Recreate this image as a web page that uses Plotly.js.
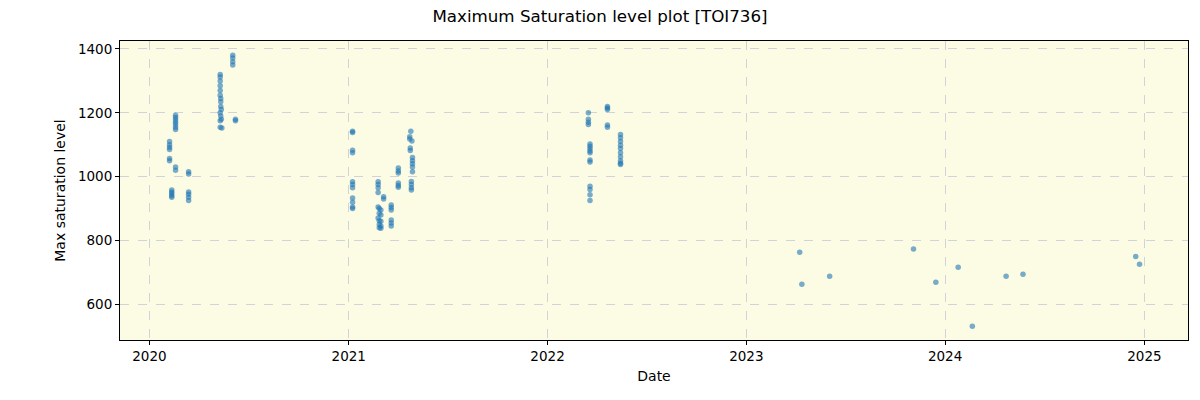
<!DOCTYPE html>
<html>
<head>
<meta charset="utf-8">
<script src="https://cdn.plot.ly/plotly-3.0.1.min.js"></script>
<style>html,body{margin:0;padding:0;background:#fff;}#chart{width:1200px;height:400px;}</style>
</head>
<body>
<div id="chart"></div>
<script>
const dates = [
  // 2020
  "2020-02-07","2020-02-07","2020-02-07","2020-02-07","2020-02-07","2020-02-07",
  "2020-02-11","2020-02-11","2020-02-11","2020-02-11","2020-02-11",
  "2020-02-18","2020-02-18","2020-02-18","2020-02-18","2020-02-18","2020-02-18","2020-02-18","2020-02-18","2020-02-18",
  "2020-03-13","2020-03-13","2020-03-13","2020-03-13","2020-03-13","2020-03-13",
  "2020-05-10","2020-05-10","2020-05-10","2020-05-10","2020-05-10","2020-05-10","2020-05-11","2020-05-11",
  "2020-05-11","2020-05-12","2020-05-10","2020-05-11","2020-05-12","2020-05-10","2020-05-10","2020-05-13",
  "2020-06-02","2020-06-02","2020-06-02","2020-06-02",
  "2020-06-07","2020-06-07",
  // 2021
  "2021-01-08","2021-01-08","2021-01-08","2021-01-08","2021-01-08","2021-01-08","2021-01-08","2021-01-08","2021-01-08","2021-01-08","2021-01-08",
  "2021-02-24","2021-02-24","2021-02-24","2021-02-24","2021-02-24","2021-02-24",
  "2021-02-26","2021-02-26","2021-02-26","2021-02-26","2021-02-26",
  "2021-03-01","2021-03-01","2021-03-01","2021-03-01","2021-03-01",
  "2021-03-06","2021-03-06",
  "2021-03-20","2021-03-20","2021-03-20","2021-03-20","2021-03-20","2021-03-20",
  "2021-04-02","2021-04-02","2021-04-02","2021-04-02","2021-04-02","2021-04-02",
  "2021-04-25","2021-04-23","2021-04-27","2021-04-23","2021-04-24","2021-04-24","2021-04-28","2021-04-28",
  "2021-04-28","2021-04-28","2021-04-28","2021-04-26","2021-04-26","2021-04-26","2021-04-26",
  // 2022
  "2022-03-17","2022-03-17","2022-03-17","2022-03-17",
  "2022-03-20","2022-03-20","2022-03-20","2022-03-20","2022-03-20","2022-03-20","2022-03-20",
  "2022-03-20","2022-03-20","2022-03-20","2022-03-20",
  "2022-04-21","2022-04-21","2022-04-21","2022-04-21","2022-04-21",
  "2022-05-15","2022-05-15","2022-05-15","2022-05-15","2022-05-15","2022-05-15","2022-05-15","2022-05-15","2022-05-15","2022-05-15",
  // later
  "2023-04-09","2023-04-13","2023-06-03","2023-11-04","2023-12-15",
  "2024-01-25","2024-02-20","2024-04-22","2024-05-23","2024-12-16","2024-12-23"
];
const maxSaturation = [
  // 2020
  1110, 1100, 1092, 1085, 1057, 1050,
  958, 952, 946, 940, 935,
  1192, 1185, 1178, 1170, 1163, 1155, 1148, 1030, 1020,
  1015, 1008, 952, 945, 935, 925,
  1320, 1312, 1300, 1285, 1270, 1255, 1245, 1235,
  1220, 1210, 1200, 1190, 1180, 1175, 1155, 1152,
  1380, 1372, 1360, 1350,
  1180, 1175,
  // 2021
  1142, 1138, 1083, 1075, 984, 975, 965, 933, 920, 905, 900,
  984, 975, 965, 950, 905, 870,
  900, 885, 862, 850, 840,
  895, 880, 860, 845, 838,
  937, 930,
  911, 903, 895, 864, 855, 845,
  1027, 1018, 1011, 980, 972, 967,
  1142, 1125, 1112, 1118, 1090, 1082, 1060, 1050,
  1040, 1030, 1015, 985, 975, 965, 958,
  // 2022
  1200, 1180, 1170, 1163,
  1102, 1095, 1088, 1080, 1075, 1052, 1046,
  970, 960, 943, 925,
  1220, 1215, 1210, 1162, 1155,
  1132, 1122, 1110, 1098, 1088, 1075, 1062, 1050, 1042, 1038,
  // later
  763, 663, 688, 773, 669,
  716, 531, 688, 694, 750, 725
];
const yTicks = [600, 800, 1000, 1200, 1400];
const xTickVals = ["2020-01-01","2021-01-01","2022-01-01","2023-01-01","2024-01-01","2025-01-01"];
const xTickText = ["2020","2021","2022","2023","2024","2025"];

const font = "DejaVu Sans, sans-serif";
const trace = {
  x: dates, y: maxSaturation, type: "scatter", mode: "markers",
  marker: {color: "#1f77b4", size: 5.5, opacity: 0.6, line: {width: 0}},
  hoverinfo: "x+y"
};
const axisCommon = {
  showline: true, mirror: true, linecolor: "#000", linewidth: 1,
  ticks: "outside", ticklen: 4, tickwidth: 1, tickcolor: "#000",
  showgrid: true, gridcolor: "#d2d2da", griddash: "dash", gridwidth: 1,
  zeroline: false, tickfont: {family: font, size: 13.5, color: "#000"}
};
const layout = {
  width: 1200, height: 400,
  margin: {l: 120, r: 12, t: 41, b: 60},
  paper_bgcolor: "#fff", plot_bgcolor: "#fcfbe3",
  title: {text: "Maximum Saturation level plot [TOI736]", x: 0.5, xanchor: "center", y: 0.96, yanchor: "middle", font: {family: font, size: 16.7, color: "#000"}},
  xaxis: Object.assign({}, axisCommon, {
    type: "date", range: ["2019-11-08", "2025-03-22"],
    tickvals: xTickVals, ticktext: xTickText,
    title: {text: "Date", font: {family: font, size: 14, color: "#000"}, standoff: 7}
  }),
  yaxis: Object.assign({}, axisCommon, {
    range: [488, 1425], tickvals: yTicks, ticktext: yTicks.map(String),
    title: {text: "Max saturation level", font: {family: font, size: 14, color: "#000"}, standoff: 9}
  }),
  showlegend: false
};
Plotly.newPlot("chart", [trace], layout, {displayModeBar: false, staticPlot: true});
</script>
</body>
</html>
